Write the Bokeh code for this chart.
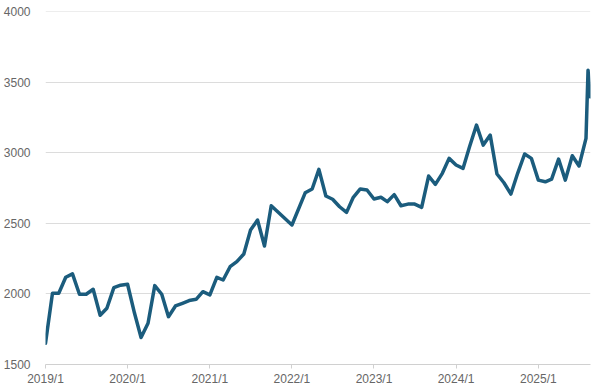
import pandas as pd
from bokeh.plotting import figure
from bokeh.models import Range1d, FixedTicker, ColumnDataSource
from bokeh.embed import file_html
from bokeh.resources import INLINE

# ---- data ----
dates = [
    "2019-01-01", "2019-02-01", "2019-03-01", "2019-04-01", "2019-05-01", "2019-06-01",
    "2019-07-01", "2019-08-01", "2019-09-01", "2019-10-01", "2019-11-01", "2019-12-01",
    "2020-01-01", "2020-02-01", "2020-03-01", "2020-04-01", "2020-05-01", "2020-06-01",
    "2020-07-01", "2020-08-01", "2020-09-01", "2020-10-01", "2020-11-01", "2020-12-01",
    "2021-01-01", "2021-02-01", "2021-03-01", "2021-04-01", "2021-05-01", "2021-06-01",
    "2021-07-01", "2021-08-01", "2021-09-01", "2021-10-01",
    "2022-01-01", "2022-03-01", "2022-04-01", "2022-05-01", "2022-06-01",
    "2022-07-01", "2022-08-01", "2022-09-01", "2022-10-01", "2022-11-01", "2022-12-01",
    "2023-01-01", "2023-02-01", "2023-03-01", "2023-04-01", "2023-05-01", "2023-06-01",
    "2023-07-01", "2023-08-01", "2023-09-01", "2023-10-01", "2023-11-01", "2023-12-01",
    "2024-01-01", "2024-02-01", "2024-03-01", "2024-04-01", "2024-05-01", "2024-06-01",
    "2024-07-01", "2024-08-01", "2024-09-01", "2024-10-01", "2024-11-01", "2024-12-01",
    "2025-01-01", "2025-02-01", "2025-03-01", "2025-04-01", "2025-05-01", "2025-06-01",
    "2025-07-01", "2025-08-01", "2025-08-10", "2025-08-20",
]
values = [
    1651, 2005, 2005, 2118, 2142, 1998,
    1998, 2033, 1849, 1899, 2045, 2062,
    2069, 1863, 1691, 1792, 2059, 1998,
    1839, 1915, 1934, 1953, 1962, 2016,
    1993, 2118, 2099, 2193, 2229, 2283,
    2453, 2524, 2340, 2625,
    2489, 2717, 2744, 2883, 2694,
    2671, 2618, 2578, 2685, 2744, 2737,
    2673, 2685, 2654, 2704, 2625, 2637,
    2637, 2614, 2836, 2777, 2855, 2961,
    2914, 2890, 3043, 3197, 3055, 3126,
    2850, 2788, 2708, 2855, 2992, 2961,
    2807, 2795, 2814, 2956, 2807, 2980,
    2907, 3103, 3586, 3397,
]
tick_years = [2019, 2020, 2021, 2022, 2023, 2024, 2025]
tick_labels = ["2019/1", "2020/1", "2021/1", "2022/1", "2023/1", "2024/1", "2025/1"]
y_ticks = [1500, 2000, 2500, 3000, 3500, 4000]

# ---- build ----
x = pd.to_datetime(dates)
src = ColumnDataSource(dict(x=x, y=values))

x_start = pd.Timestamp("2019-01-01")
x_end = pd.Timestamp("2025-08-21")

p = figure(width=592, height=388, x_axis_type="datetime",
           output_backend="svg", toolbar_location=None,
           x_range=Range1d(x_start, x_end), y_range=Range1d(1500, 4002),
           min_border_left=29, min_border_right=2, min_border_top=11,
           min_border_bottom=18)
p.outline_line_color = None
p.background_fill_color = "white"
p.border_fill_color = "white"

p.line("x", "y", source=src, line_color="#1b5c7d", line_width=3.5,
       line_join="round", line_cap="round")

tick_ms = [pd.Timestamp(f"{yr}-01-01").value / 1e6 for yr in tick_years]
p.xaxis.ticker = FixedTicker(ticks=tick_ms)
p.xaxis.major_label_overrides = {t: l for t, l in zip(tick_ms, tick_labels)}
p.xaxis.axis_line_color = "#d0d0d0"
p.xaxis.major_tick_line_color = "#d0d0d0"
p.xaxis.major_tick_out = 4
p.xaxis.major_tick_in = 0
p.xaxis.minor_tick_line_color = None
p.xaxis.major_label_standoff = 3
p.xaxis.major_label_text_font = "Liberation Sans"
p.xaxis.major_label_text_font_size = "12px"
p.xaxis.major_label_text_color = "#666666"

p.yaxis.ticker = FixedTicker(ticks=y_ticks)
p.yaxis.axis_line_color = None
p.yaxis.major_tick_line_color = None
p.yaxis.minor_tick_line_color = None
p.yaxis.major_label_standoff = 9
p.yaxis.major_label_text_font = "Liberation Sans"
p.yaxis.major_label_text_font_size = "12px"
p.yaxis.major_label_text_color = "#666666"

p.xgrid.grid_line_color = None
p.ygrid.grid_line_color = "#dcdcdc"
p.ygrid.grid_line_width = 1

open("out.html", "w").write(file_html(p, INLINE))
